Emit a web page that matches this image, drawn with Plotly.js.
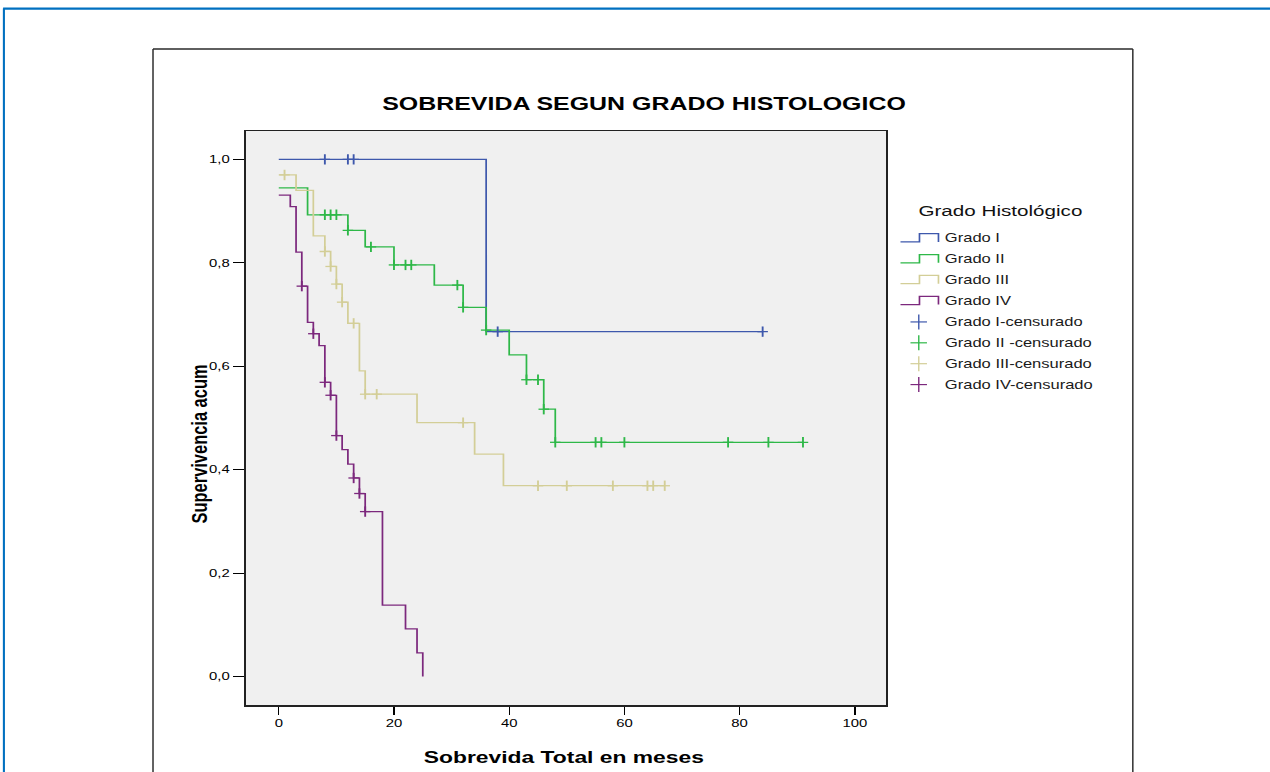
<!DOCTYPE html>
<html><head><meta charset="utf-8">
<script src="https://cdn.plot.ly/plotly-3.0.1.min.js"></script>
<style>
html,body{margin:0;padding:0;background:#fff;overflow:hidden;}
#wrap{width:1270px;height:772px;overflow:hidden;position:relative;}
#chart{width:914px;height:772px;transform:scaleX(1.389497);transform-origin:0 0;}
</style></head><body><div id="wrap"><div id="chart"></div></div>
<script>
// ---- data ----
const gradeI_time = [0, 36, 84];
const gradeI_surv = [1.000, 0.667, 0.667];
const gradeI_cens_time = [8, 12, 13, 38, 84];
const gradeI_cens_surv = [1.000, 1.000, 1.000, 0.667, 0.667];

const gradeII_time = [0, 5, 12, 15, 20, 27, 32, 36, 40, 43, 46, 48, 91];
const gradeII_surv = [0.945, 0.893, 0.863, 0.831, 0.796, 0.757, 0.714, 0.670, 0.622, 0.574, 0.517, 0.453, 0.453];
const gradeII_cens_time = [8, 9, 10, 12, 16, 20, 22, 23, 31, 32, 36, 43, 45, 46, 48, 55, 56, 60, 78, 85, 91];
const gradeII_cens_surv = [0.893, 0.893, 0.893, 0.863, 0.831, 0.796, 0.796, 0.796, 0.757, 0.714, 0.670, 0.574, 0.574, 0.517, 0.453, 0.453, 0.453, 0.453, 0.453, 0.453, 0.453];

const gradeIII_time = [0, 3, 6, 8, 9, 10, 11, 12, 14, 15, 24, 34, 39, 67];
const gradeIII_surv = [0.970, 0.940, 0.852, 0.822, 0.793, 0.759, 0.724, 0.683, 0.591, 0.546, 0.491, 0.430, 0.369, 0.369];
const gradeIII_cens_time = [1, 8, 9, 10, 11, 13, 15, 17, 32, 45, 50, 58, 64, 65, 67];
const gradeIII_cens_surv = [0.970, 0.822, 0.793, 0.759, 0.724, 0.683, 0.546, 0.546, 0.491, 0.369, 0.369, 0.369, 0.369, 0.369, 0.369];

const gradeIV_time = [0, 2, 3, 4, 5, 6, 7, 8, 9, 10, 11, 12, 13, 14, 15, 18, 22, 24, 25];
const gradeIV_surv = [0.931, 0.909, 0.821, 0.755, 0.685, 0.663, 0.640, 0.569, 0.544, 0.466, 0.439, 0.411, 0.384, 0.354, 0.319, 0.138, 0.092, 0.046, 0.000];
const gradeIV_cens_time = [4, 6, 8, 9, 10, 13, 14, 15];
const gradeIV_cens_surv = [0.755, 0.663, 0.569, 0.544, 0.466, 0.384, 0.354, 0.319];

const seriesNames = ['Grado I', 'Grado II', 'Grado III', 'Grado IV'];
const censNames = ['Grado I-censurado', 'Grado II -censurado', 'Grado III-censurado', 'Grado IV-censurado'];
const legendTitle = 'Grado Histológico';
const chartTitle = 'SOBREVIDA SEGUN GRADO HISTOLOGICO';
const xTitle = 'Sobrevida Total en meses';
const yTitle = 'Supervivencia acum';
const xTickVals = [0, 20, 40, 60, 80, 100];
const xTickText = ['0', '20', '40', '60', '80', '100'];
const yTickVals = [0, 0.2, 0.4, 0.6, 0.8, 1.0];
const yTickText = ['0,0', '0,2', '0,4', '0,6', '0,8', '1,0'];

// ---- styling / layout ----
const colors = ['#3E58AC', '#2EB848', '#D3CE97', '#7C287D'];
const FONT = 'Liberation Sans, Arial, sans-serif';
const W = 914, H = 772;
const K = 1270 / W;              // horizontal stretch of the picture
const L = 246 / K, R = 887 / K, T = 131, B = 705.5;
const PW = R - L, PH = B - T;
const px = xp => (xp / K - L) / PW;   // page x -> paper
const py = yp => (B - yp) / PH;       // page y -> paper

const lineSets = [
  [gradeI_time, gradeI_surv], [gradeII_time, gradeII_surv],
  [gradeIII_time, gradeIII_surv], [gradeIV_time, gradeIV_surv]];
const censSets = [
  [gradeI_cens_time, gradeI_cens_surv], [gradeII_cens_time, gradeII_cens_surv],
  [gradeIII_cens_time, gradeIII_cens_surv], [gradeIV_cens_time, gradeIV_cens_surv]];

const traces = [];
lineSets.forEach((s, i) => traces.push({
  type: 'scatter', mode: 'lines', name: seriesNames[i], x: s[0], y: s[1],
  line: {shape: 'hv', color: colors[i], width: 1.25}, showlegend: false, hoverinfo: 'skip'
}));
censSets.forEach((s, i) => {
  traces.push({
    type: 'scatter', mode: 'markers', name: censNames[i], x: s[0], y: s[1],
    marker: {symbol: 'line-ns', size: 7.4, color: colors[i], line: {color: colors[i], width: 1.35}},
    showlegend: false, hoverinfo: 'skip'
  });
  traces.push({
    type: 'scatter', mode: 'markers', name: censNames[i], x: s[0], y: s[1],
    marker: {symbol: 'line-ew', size: 5.4, color: colors[i], line: {color: colors[i], width: 1.3}},
    showlegend: false, hoverinfo: 'skip'
  });
});

const shapes = [];
const annotations = [];
// outer blue frame
shapes.push({type: 'line', xref: 'paper', yref: 'paper', x0: px(3), x1: px(1275), y0: py(8.5), y1: py(8.5), line: {color: '#0070C0', width: 2.2}});
shapes.push({type: 'line', xref: 'paper', yref: 'paper', x0: px(3.8), x1: px(3.8), y0: py(8.5), y1: py(800), line: {color: '#0070C0', width: 1.5}});
// inner chart frame
shapes.push({type: 'line', xref: 'paper', yref: 'paper', x0: px(153), x1: px(1133.5), y0: py(49), y1: py(49), line: {color: '#2a2a2a', width: 1.6}});
shapes.push({type: 'line', xref: 'paper', yref: 'paper', x0: px(153), x1: px(153), y0: py(49), y1: py(800), line: {color: '#2a2a2a', width: 1.05}});
shapes.push({type: 'line', xref: 'paper', yref: 'paper', x0: px(1133.5), x1: px(1133.5), y0: py(49), y1: py(800), line: {color: '#2a2a2a', width: 1.05}});

// custom legend
annotations.push({xref: 'paper', yref: 'paper', x: px(1000.5), y: py(211), xanchor: 'center', yanchor: 'middle',
  text: legendTitle, showarrow: false, font: {family: FONT, size: 14.85, color: '#111'}});
const allNames = seriesNames.concat(censNames);
allNames.forEach((nm, i) => {
  const yc = 238.5 + 20.9 * i;
  const c = colors[i % 4];
  if (i < 4) {
    const path = 'M' + px(901) + ',' + py(yc + 3.5) + ' L' + px(920) + ',' + py(yc + 3.5) +
      ' L' + px(920) + ',' + py(yc - 4.7) + ' L' + px(939) + ',' + py(yc - 4.7) + ' L' + px(939) + ',' + py(yc + 3.5);
    shapes.push({type: 'path', xref: 'paper', yref: 'paper', path: path, line: {color: c, width: 1.2}});
  } else {
    shapes.push({type: 'line', xref: 'paper', yref: 'paper', x0: px(911), x1: px(927.5), y0: py(yc), y1: py(yc), line: {color: c, width: 1.2}});
    shapes.push({type: 'line', xref: 'paper', yref: 'paper', x0: px(919.3), x1: px(919.3), y0: py(yc - 7.5), y1: py(yc + 7.5), line: {color: c, width: 1.0}});
  }
  annotations.push({xref: 'paper', yref: 'paper', x: px(942.5), y: py(yc), xanchor: 'left', yanchor: 'middle',
    text: nm, showarrow: false, font: {family: FONT, size: 11.9, color: '#1a1a1a'}});
});

// axis titles
annotations.push({xref: 'paper', yref: 'paper', x: px(564), y: py(757.5), xanchor: 'center', yanchor: 'middle',
  text: '<b>' + xTitle + '</b>', showarrow: false, font: {family: FONT, size: 16.45, color: '#000'}});
annotations.push({xref: 'paper', yref: 'paper', x: px(199), y: py(444.5), xanchor: 'center', yanchor: 'middle', textangle: -90,
  text: '<b>' + yTitle + '</b>', showarrow: false, font: {family: FONT, size: 16.45, color: '#000'}});

const layout = {
  width: W, height: H, autosize: false,
  margin: {l: L, r: W - R, t: T, b: H - B, pad: 0},
  paper_bgcolor: '#ffffff', plot_bgcolor: '#f0f0f0',
  showlegend: false,
  title: {text: '<b>' + chartTitle + '</b>', font: {family: FONT, size: 17.95, color: '#000'},
    xref: 'container', yref: 'container', x: (644 / K) / W, xanchor: 'center', y: 1 - 103.3 / H, yanchor: 'middle'},
  xaxis: {range: [-5.7, 105.5], tickvals: xTickVals, ticktext: xTickText, ticks: 'outside', ticklen: 8, tickwidth: 1,
    tickcolor: '#000', showline: true, mirror: true, linecolor: '#222', linewidth: 1.5, showgrid: false, zeroline: false,
    tickfont: {family: FONT, size: 10.7, color: '#000'}, fixedrange: true},
  yaxis: {range: [-0.055, 1.055], tickvals: yTickVals, ticktext: yTickText, ticks: 'outside', ticklen: 8.4, tickwidth: 1.2,
    tickcolor: '#000', showline: true, mirror: true, linecolor: '#222', linewidth: 1.1, showgrid: false, zeroline: false,
    tickfont: {family: FONT, size: 10.7, color: '#000'}, fixedrange: true},
  shapes: shapes,
  annotations: annotations
};

Plotly.newPlot('chart', traces, layout, {displayModeBar: false, staticPlot: true});
</script>
</body></html>
